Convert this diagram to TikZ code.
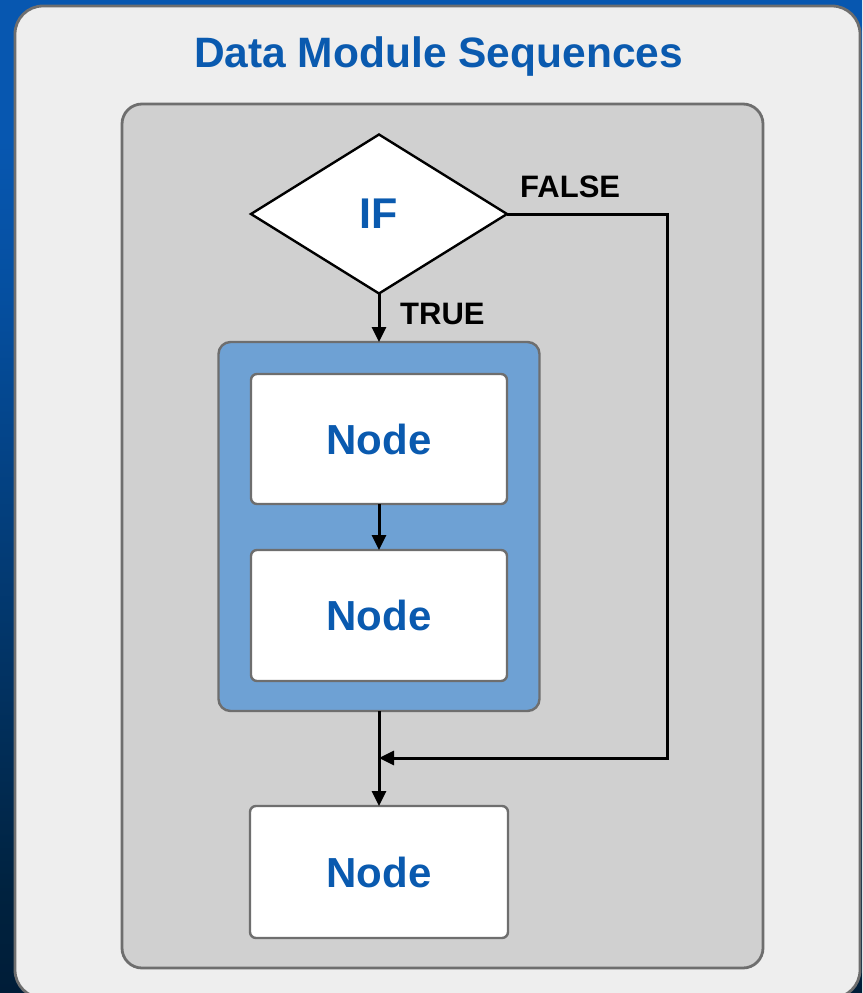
\documentclass[tikz,border=0pt]{standalone}
\usepackage{fontspec}
\setmainfont{Liberation Sans}
\usetikzlibrary{arrows.meta,shapes.geometric}

\definecolor{textblue}{HTML}{0A5AAF}
\definecolor{edgegray}{HTML}{6E6E6E}
\definecolor{panellight}{HTML}{EEEEEE}
\definecolor{panelgray}{HTML}{D0D0D0}
\definecolor{groupblue}{HTML}{6EA1D4}
\definecolor{bgdark}{HTML}{001D38}
\definecolor{bgdarktwo}{HTML}{00223F}
\definecolor{bgmid}{HTML}{054FA0}
\definecolor{bgtop}{HTML}{0757B0}

% backdrop: steady blue at the top, fading to navy towards the bottom
\pgfdeclareverticalshading{backdrop}{100bp}{%
  color(0bp)=(bgdark); color(25bp)=(bgdark); color(30bp)=(bgdarktwo);
  color(60bp)=(bgmid); color(68bp)=(bgtop); color(100bp)=(bgtop)}

\tikzset{
  panel/.style={draw=edgegray, line width=2.8pt, outer sep=0pt, inner sep=0pt},
  stepbox/.style={panel, line width=2.4pt, fill=white, rounded corners=6pt,
    font=\bfseries\fontsize{42}{42}\selectfont, text=textblue},
  decision/.style={diamond, draw=black, line width=2.4pt, fill=white,
    inner sep=0pt, outer sep=0pt,
    font=\bfseries\fontsize{43}{43}\selectfont, text=textblue},
  flow/.style={draw=black, line width=3pt, -{Triangle[width=14pt,length=15pt]}},
  branchlabel/.style={font=\bfseries\fontsize{31}{31}\selectfont, text=black,
    inner sep=0pt, anchor=base west},
}

\begin{document}
\begin{tikzpicture}[x=1pt, y=-1pt]
  \useasboundingbox (0,0) rectangle (862,993);
  \shade[shading=backdrop] (0,0) rectangle (862,993);

  % outer light panel (its lower edge runs just past the page) and title
  \node[panel, fill=panellight, rounded corners=28pt,
        minimum width=845pt, minimum height=992pt] (outer) at (437.5,502) {};
  \node[font=\bfseries\fontsize{42.5}{42.5}\selectfont, text=textblue,
        inner sep=0pt, anchor=base] (title) at (438.5,67) {Data Module Sequences};

  % inner grey panel
  \node[panel, fill=panelgray, rounded corners=20pt,
        minimum width=641pt, minimum height=864pt] (inner) at (442.5,536) {};

  % decision
  \node[decision, minimum width=256pt, minimum height=159pt] (if) at (379,214) {IF};

  % blue group holding the two sequenced nodes
  \node[panel, line width=2.4pt, fill=groupblue, rounded corners=12pt,
        minimum width=321pt, minimum height=369pt] (grp) at (379,526.5) {};
  \node[stepbox, minimum width=256pt, minimum height=130pt] (n1) at (379,439) {Node};
  \node[stepbox, minimum width=256pt, minimum height=131pt] (n2) at (379,615.5) {Node};

  % node after the merge
  \node[stepbox, minimum width=258pt, minimum height=132pt] (n3) at (379,872) {Node};

  % branch labels
  \node[branchlabel] (lfalse) at (520,197) {FALSE};
  \node[branchlabel] (ltrue) at (400,324) {TRUE};

  % connectors
  \coordinate (fcorner) at (667,758);
  \coordinate (merge) at (379,758);
  \draw[flow] (if.south) -- (grp.north);
  \draw[flow] (n1.south) -- (n2.north);
  \draw[flow] (grp.south) -- (n3.north);
  \draw[flow] (if.east) -| (fcorner) -- (merge);
\end{tikzpicture}
\end{document}
